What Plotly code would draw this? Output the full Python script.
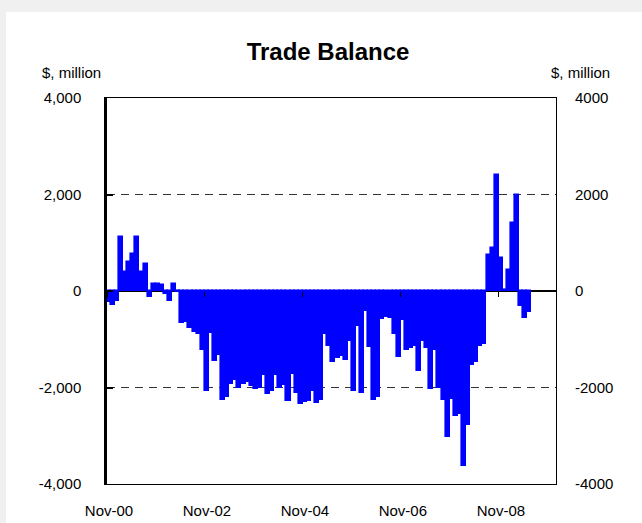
import pandas as pd
import plotly.graph_objects as go

# Monthly trade balance, $ million, Nov-2000 onwards
balance = [
    -220, -280, -200, 1110, 400, 610, 770, 1110, 400, 560,
    -120, 140, 140, 120, -60, -200, 140, -30, -670, -650,
    -770, -840, -900, -1230, -2080, -860, -1450, -1320, -2260, -2200,
    -1920, -1850, -2000, -1920, -1880, -1960, -2040, -2000, -1740, -2130,
    -2080, -1740, -2000, -1950, -2280, -1710, -2110, -2350, -2300, -2280,
    -2080, -2320, -2250, -900, -1140, -1480, -1390, -1350, -1430, -1030,
    -2070, -730, -2110, -420, -1170, -2260, -2200, -570, -530, -560,
    -900, -1360, -600, -1220, -1190, -1150, -1660, -1040, -1180, -2030,
    -1220, -2000, -2260, -3020, -2230, -2600, -2550, -3630, -2770, -1530,
    -1480, -1140, -1100, 740, 900, 2400, 690, 20, 430, 1400,
    1980, -310, -560, -430,
]
start_month = "2000-11-01"
axis_end = "2010-01-01"

tick_dates = ["2000-11-16", "2002-11-16", "2004-11-16", "2006-11-16", "2008-11-16"]
tick_bounds = ["2000-11-01", "2002-11-01", "2004-11-01", "2006-11-01", "2008-11-01"]
tick_text = ["Nov-00", "Nov-02", "Nov-04", "Nov-06", "Nov-08"]

y_vals = [-4000, -2000, 0, 2000, 4000]
y_left_text = ["-4,000", "-2,000", "0", "2,000", "4,000"]
y_right_text = ["-4000", "-2000", "0", "2000", "4000"]

months = pd.date_range(start_month, periods=len(balance), freq="MS")

FONT = "Liberation Sans, Arial, sans-serif"
BLUE = "#0000ff"

fig = go.Figure()
fig.add_trace(go.Bar(
    x=months, y=balance,
    xperiod="M1", xperiodalignment="middle",
    width=30.4 * 86400000,
    marker=dict(color=BLUE, line=dict(color=BLUE, width=1.6)),
    hoverinfo="x+y", showlegend=False,
))
# invisible trace to carry the right-hand axis and the zero-line ticks
fig.add_trace(go.Scatter(
    x=months, y=balance, xaxis="x2", yaxis="y2",
    mode="lines", line=dict(width=0), opacity=0,
    hoverinfo="skip", showlegend=False,
))

L, R, T, B = 107, 86, 98, 39
W, H = 642, 523
pw = W - L - R
ph = H - T - B

def px_x(px):
    return (px - L) / pw

def px_y(py):
    return (H - B - py) / ph

fig.update_layout(
    width=W, height=H,
    margin=dict(l=L, r=R, t=T, b=B, pad=0, autoexpand=False),
    paper_bgcolor="#f0f0f0",
    plot_bgcolor="white",
    bargap=0,
    barmode="overlay",
    font=dict(family=FONT, size=15, color="black"),
    title=dict(
        text="<b>Trade Balance</b>", x=328 / W, xanchor="center",
        y=1 - 52 / H, yanchor="middle", xref="container", yref="container",
        font=dict(family=FONT, size=24, color="black"),
    ),
    xaxis=dict(
        type="date", range=[start_month, axis_end], automargin=False,
        tickmode="array", tickvals=tick_dates, ticktext=tick_text,
        ticks="", showgrid=False, zeroline=False,
        showline=True, linecolor="black", linewidth=1.2, mirror=True,
        tickfont=dict(family=FONT, size=15, color="black"),
        ticklabelstandoff=13,
    ),
    xaxis2=dict(
        type="date", matches="x", overlaying="x", anchor="free", position=0.5,
        automargin=False,
        tickmode="array", tickvals=tick_bounds, ticks="outside", ticklen=5,
        tickwidth=1.2, tickcolor="black", showticklabels=False,
        showgrid=False, zeroline=False, showline=False,
    ),
    yaxis=dict(
        range=[-4000, 4000], automargin=False,
        tickmode="array", tickvals=y_vals, ticktext=y_left_text,
        ticks="inside", ticklen=6, tickwidth=1.5, tickcolor="black",
        showline=True, linecolor="black", linewidth=2.5,
        showgrid=True, gridcolor="#333333", gridwidth=1, griddash="8px,6px",
        zeroline=True, zerolinecolor="black", zerolinewidth=2,
        tickfont=dict(family=FONT, size=15, color="black"),
        ticklabelstandoff=20,
    ),
    yaxis2=dict(
        range=[-4000, 4000], overlaying="y", side="right", anchor="x2",
        automargin=False,
        tickmode="array", tickvals=y_vals, ticktext=y_right_text,
        ticks="", showgrid=False, zeroline=False,
        showline=True, linecolor="black", linewidth=1,
        tickfont=dict(family=FONT, size=15, color="black"),
        ticklabelstandoff=15,
    ),
    shapes=[dict(
        type="rect", xref="paper", yref="paper", layer="below",
        x0=px_x(6), x1=px_x(W + 2), y0=px_y(H + 2), y1=px_y(12),
        fillcolor="white", line=dict(width=0),
    )],
    annotations=[
        dict(text="$, million", xref="paper", yref="paper",
             x=px_x(71), y=px_y(72), xanchor="center", yanchor="middle",
             showarrow=False, font=dict(family=FONT, size=15, color="black")),
        dict(text="$, million", xref="paper", yref="paper",
             x=px_x(580), y=px_y(72), xanchor="center", yanchor="middle",
             showarrow=False, font=dict(family=FONT, size=15, color="black")),
    ],
)

fig.write_html(
    "out.html",
    config={"displayModeBar": False},
    post_script="document.body.style.margin='0';document.body.style.background='#f0f0f0';",
)
